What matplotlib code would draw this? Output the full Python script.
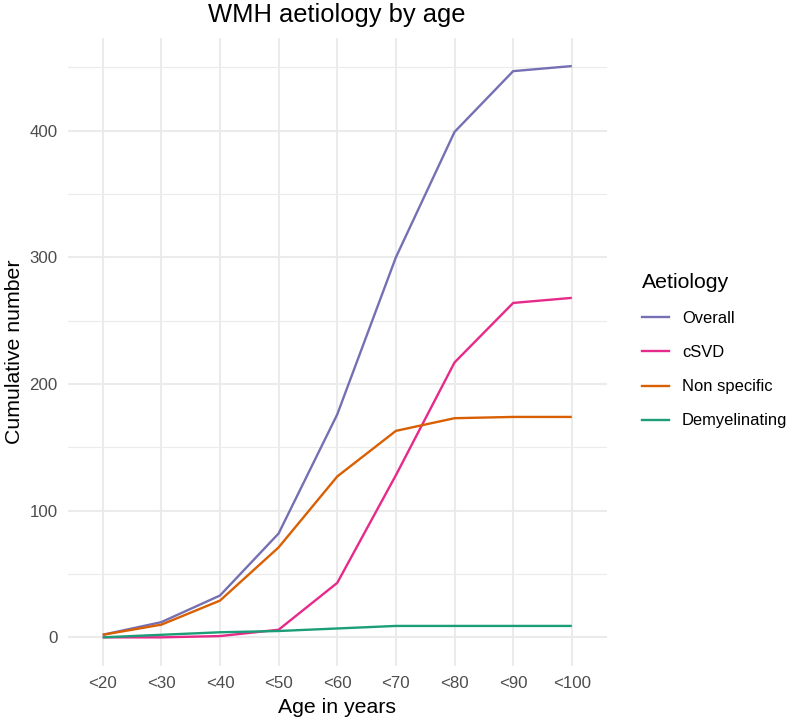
import matplotlib
matplotlib.use('Agg')
import matplotlib.pyplot as plt
from matplotlib.ticker import MultipleLocator
from matplotlib.lines import Line2D

plt.rcParams['font.family'] = ['Liberation Sans', 'DejaVu Sans']

# datos
edades = ['<20', '<30', '<40', '<50', '<60', '<70', '<80', '<90', '<100']
overall = [2, 12, 33, 82, 176, 300, 399, 447, 451]
csvd = [0, 0, 1, 6, 43, 128, 217, 264, 268]
non_specific = [2, 10, 29, 71, 127, 163, 173, 174, 174]
demyelinating = [0, 2, 4, 5, 7, 9, 9, 9, 9]

series = ['Overall', 'cSVD', 'Non specific', 'Demyelinating']
colores = ['#7570B3', '#E7298A', '#D95F02', '#1B9E77']

W, H = 794, 721
fig = plt.figure(figsize=(W / 100, H / 100), dpi=100)
ax = fig.add_axes([67.5 / W, 1 - 665.9 / H, (607 - 67.5) / W, (665.9 - 37.5) / H])

x = list(range(len(edades)))
for nombre, vals, col in zip(series, [overall, csvd, non_specific, demyelinating], colores):
    ax.plot(x, vals, color=col, linewidth=1.7, solid_capstyle='butt', label=nombre, zorder=3)

ax.set_xlim(-0.6, len(edades) - 1 + 0.6)
ax.set_ylim(-22.55, 473.55)
ax.set_xticks(x)
ax.set_xticklabels(edades)
ax.yaxis.set_major_locator(MultipleLocator(100))
ax.yaxis.set_minor_locator(MultipleLocator(50))

ax.grid(which='major', color='#EBEBEB', linewidth=1.45, zorder=0)
ax.grid(which='minor', axis='y', color='#EBEBEB', linewidth=0.85, zorder=0)
ax.set_axisbelow(True)
for s in ax.spines.values():
    s.set_visible(False)
ax.tick_params(which='both', length=0, labelsize=12.2, labelcolor='#4D4D4D', pad=7)

ax.set_xlabel('Age in years', fontsize=15.3, labelpad=5)
ax.set_ylabel('Cumulative number', fontsize=15.3, labelpad=4)

fig.text(337 / W, 1 - 21.7 / H, 'WMH aetiology by age', fontsize=18.4,
         ha='center', va='baseline')

handles = [Line2D([0], [0], color=c, linewidth=1.7) for c in colores]
leg = fig.legend(handles, series, loc='upper left', bbox_to_anchor=(634 / W, 1 - 265 / H),
                 frameon=False, title='Aetiology', title_fontsize=15.3, fontsize=11.9,
                 handlelength=1.6, handletextpad=0.8, labelspacing=1.15, borderpad=0,
                 alignment='left')

fig.savefig('out.png', dpi=100)
